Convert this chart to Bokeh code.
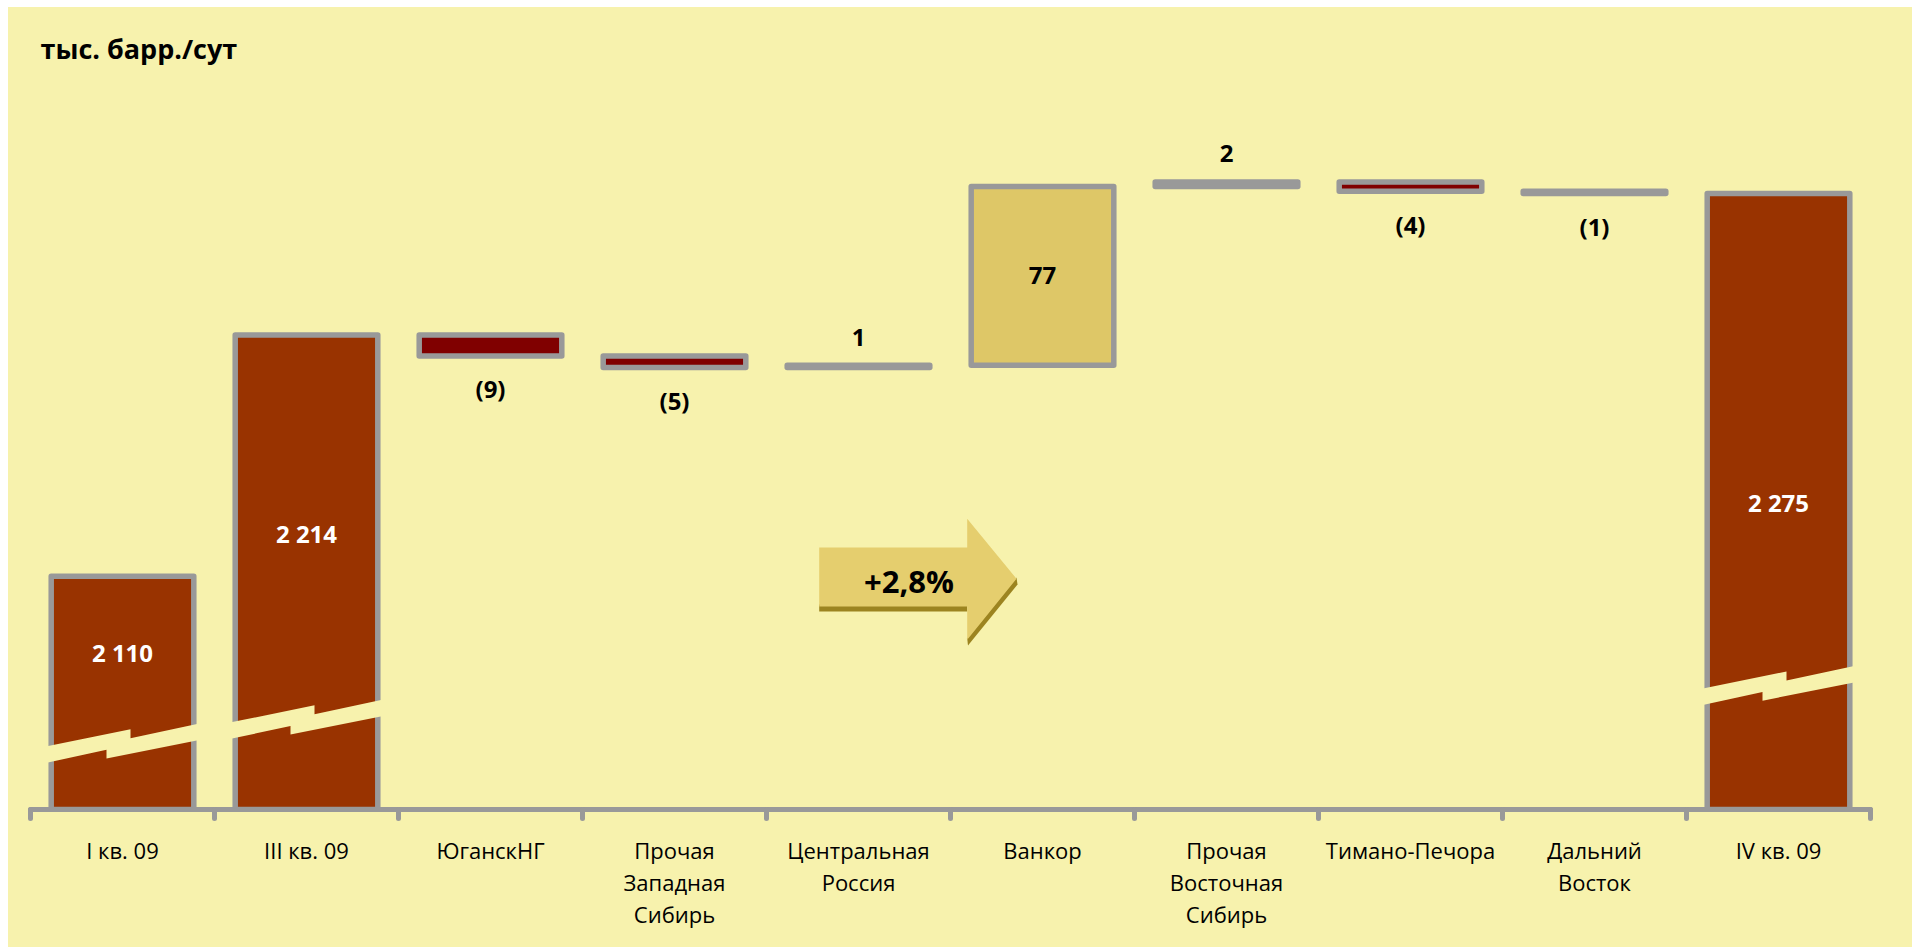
from bokeh.plotting import figure
from bokeh.models import Range1d, FixedTicker, Spacer
from bokeh.layouts import column, row
from bokeh.core.properties import value
from bokeh.embed import file_html
from bokeh.resources import INLINE

# ---------------- data ----------------
categories = ["I кв. 09", "III кв. 09", "ЮганскНГ", "Прочая\nЗападная\nСибирь",
              "Центральная\nРоссия", "Ванкор", "Прочая\nВосточная\nСибирь",
              "Тимано-Печора", "Дальний\nВосток", "IV кв. 09"]
start_values = [2110, 2214]          # I кв. 09, III кв. 09
deltas = [-9, -5, 1, 77, 2, -4, -1]  # contributions
end_value = 2275                     # IV кв. 09
growth_label = "+2,8%"
unit_label = "тыс. барр./сут"

# ---------------- layout / style constants ----------------
BG = "#F7F2AD"
GRAY = "#999999"
C_TOTAL = "#993300"
C_NEG = "#800000"
C_POS = "#DEC767"
FONT = "Open Sans"

YMIN = 2009.5           # value at axis line
PPU = 2.32              # screen px per unit
FRAME_H = 802
YMAX = YMIN + FRAME_H / PPU
CAT_W = 184.0           # px per category
X0 = 30.0               # page px of frame left
Y_AXIS = 809.0          # page px of axis line


def dx(X):   # page px -> data x
    return (X - X0) / CAT_W - 0.5


def dy(Y):   # page px -> data y
    return YMIN + (Y_AXIS - Y) / PPU


# ---------------- waterfall geometry ----------------
n = len(categories)
xs = list(range(n))
bottoms, tops, colors = [], [], []
for v in start_values:
    bottoms.append(YMIN); tops.append(v); colors.append(C_TOTAL)
level = start_values[-1]
for d in deltas:
    lo, hi = (level + d, level) if d < 0 else (level, level + d)
    bottoms.append(lo); tops.append(hi)
    colors.append(C_NEG if d < 0 else C_POS)
    level += d
bottoms.append(YMIN); tops.append(end_value); colors.append(C_TOTAL)

p = figure(width=1904, height=940, x_range=Range1d(-0.5, 9.5),
           y_range=Range1d(YMIN, YMAX), output_backend="svg",
           toolbar_location=None, title=None,
           min_border_left=22, min_border_right=42,
           min_border_top=0, min_border_bottom=138)
p.background_fill_color = None
p.border_fill_color = None
p.styles = {"background-color": BG}
p.outline_line_color = None
p.xgrid.visible = False
p.ygrid.visible = False
p.yaxis.visible = False

p.vbar(x=xs, width=0.775, bottom=bottoms, top=tops, fill_color=colors,
       line_color=GRAY, line_width=5.5, line_join="round")

# axis-break marks (background coloured lightning strips)
total_idx = [0, 1, n - 1]
break_y = [2036.8, 2047.1, 2061.7]
shape = [(-78, 0.6), (8, -17), (8, -8), (78, -23), (78, -6.4),
         (-16, 12.3), (-16, 3.7), (-78, 17.1)]
bx, by = [], []
for i, yb in zip(total_idx, break_y):
    bx.append([i + sx / CAT_W for sx, sy in shape])
    by.append([yb - sy / PPU for sx, sy in shape])
p.patches(bx, by, fill_color=BG, line_color=None)

# value labels
total_vals = start_values + [end_value]
total_label_y = [2077, 2128.5, 2142]
fmt = lambda v: f"{v:,}".replace(",", " ")
p.text(x=total_idx, y=total_label_y, text=[fmt(v) for v in total_vals],
       text_font=value(FONT), text_font_style="bold", text_font_size="24px",
       text_color="white", text_align="center", text_baseline="middle")

lx, ly, lt, loff = [], [], [], []
for k, d in enumerate(deltas):
    i = k + 2
    txt = f"({abs(d)})" if d < 0 else f"{d}"
    lt.append(txt); lx.append(i)
    if abs(d) > 20:
        ly.append((bottoms[i] + tops[i]) / 2); loff.append(0)
    elif d < 0:
        ly.append(bottoms[i]); loff.append(33)
    else:
        ly.append(tops[i]); loff.append(-28)
p.text(x=lx, y=ly, text=lt, y_offset=loff, text_font=value(FONT),
       text_font_style="bold", text_font_size="24px", text_color="black",
       text_align="center", text_baseline="middle")

# growth arrow
shadow_body = ([818.7, 966.7, 966.7, 818.7], [604, 604, 611, 611])
shadow_head = ([1016, 1017, 967.5, 966.7], [577, 584, 645, 638])
arrow = ([818.7, 966.7, 966.7, 1016, 966.7, 966.7, 818.7],
         [547, 547, 518.3, 578.3, 639.3, 606, 606])
p.patches([[dx(v) for v in shadow_body[0]], [dx(v) for v in shadow_head[0]]],
          [[dy(v) for v in shadow_body[1]], [dy(v) for v in shadow_head[1]]],
          fill_color="#9C8420", line_color=None)
p.patch([dx(v) for v in arrow[0]], [dy(v) for v in arrow[1]],
        fill_color="#E5CE6E", line_color=None)
p.text(x=[dx(908.5)], y=[dy(580)], text=[growth_label], text_font=value(FONT),
       text_font_style="bold", text_font_size="31px", text_color="black",
       text_align="center", text_baseline="middle")

# unit label
p.text(x=[dx(40)], y=[dy(48)], text=[unit_label], text_font=value(FONT),
       text_font_style="bold", text_font_size="27px", text_color="black",
       text_align="left", text_baseline="middle")

# x axis
ax = p.xaxis[0]
ax.ticker = FixedTicker(ticks=xs, minor_ticks=[i - 0.5 for i in range(n + 1)])
ax.major_label_overrides = {i: c for i, c in enumerate(categories)}
ax.axis_line_color = GRAY
ax.axis_line_width = 5
ax.axis_line_cap = "round"
ax.major_tick_line_color = None
ax.major_tick_out = 0
ax.major_tick_in = 0
ax.minor_tick_line_color = GRAY
ax.minor_tick_line_width = 5
ax.minor_tick_line_cap = "round"
ax.minor_tick_out = 9
ax.minor_tick_in = 0
ax.major_label_standoff = 16
ax.major_label_text_font = FONT
ax.major_label_text_font_size = "22px"
ax.major_label_text_color = "black"
ax.major_label_text_line_height = 1.07

layout = column(Spacer(height=7),
                row(Spacer(width=8), p))

open("out.html", "w").write(file_html(layout, INLINE))
